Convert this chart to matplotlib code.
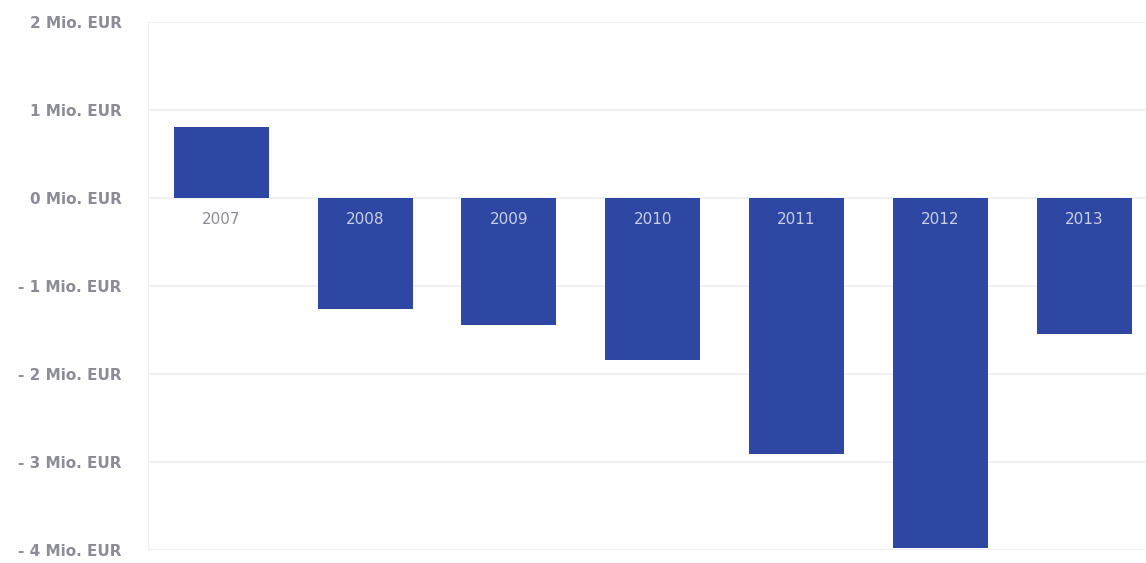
import matplotlib.pyplot as plt

# yearly result in million EUR
years  = ["2007", "2008", "2009", "2010", "2011", "2012", "2013"]
values = [0.81, -1.26, -1.44, -1.84, -2.91, -3.98, -1.55]

yticks  = [2, 1, 0, -1, -2, -3, -4]
ylabels = ["2 Mio. EUR", "1 Mio. EUR", "0 Mio. EUR", "- 1 Mio. EUR",
           "- 2 Mio. EUR", "- 3 Mio. EUR", "- 4 Mio. EUR"]

barColor  = "#2e47a2"
textColor = "#8c8c98"

fig = plt.figure(figsize=(11.46, 5.63), dpi=100)
ax = fig.add_axes([148 / 1146, 1 - 550 / 563, 1 - 148 / 1146, 528 / 563])

x = range(len(years))
ax.bar(x, values, width=0.66, color=barColor, zorder=3)

for i, (yr, v) in enumerate(zip(years, values)) :
    col = textColor if v >= 0 else "#c9cfe8"
    ax.annotate(yr, (i, 0), xytext=(0, -22), textcoords="offset pixels",
                ha="center", va="center", fontsize=11, color=col, zorder=4)

ax.set_xlim(-0.51, 6.43)
ax.set_ylim(-4, 2)
ax.set_yticks(yticks)
ax.set_yticklabels(ylabels, fontsize=11, fontweight="bold", color=textColor)
ax.tick_params(axis="y", length=0, pad=19)
ax.set_xticks([])

ax.grid(axis="y", color="#eeeef3", linewidth=1.2, zorder=0)
for s in ("top", "right", "bottom") :
    ax.spines[s].set_visible(False)
ax.spines["left"].set_color("#f0f0f4")

fig.savefig("out.png", dpi=100)
